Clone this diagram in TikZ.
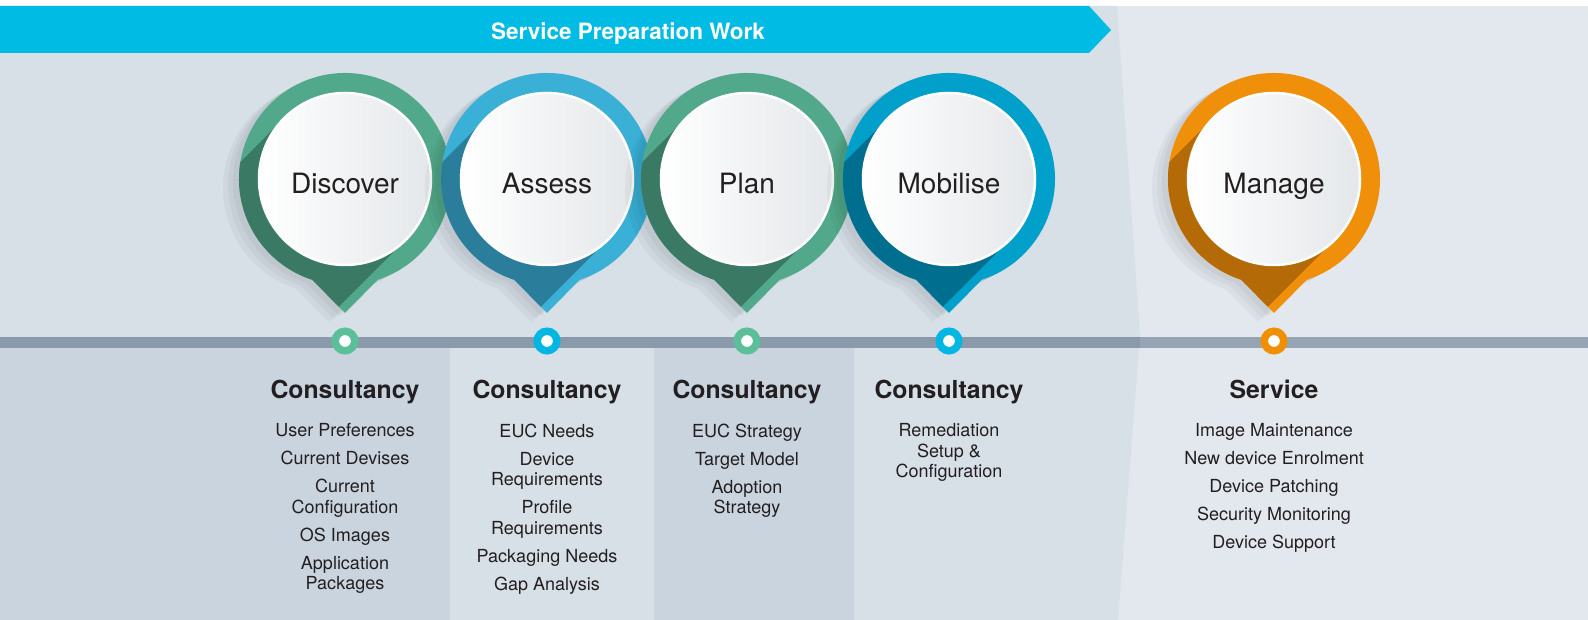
\documentclass[tikz,border=0pt]{standalone}
\usepackage{fontspec}
\setmainfont{TeX Gyre Heros}
\usepackage{tikz}
\usetikzlibrary{calc}
\usetikzlibrary{positioning}

\definecolor{bannerc}{HTML}{00BBE3}
\definecolor{leftbg}{HTML}{D7DFE7}
\definecolor{rightbg}{HTML}{E3E8EF}
\definecolor{colbg}{HTML}{C9D4DF}
\definecolor{barl}{HTML}{8A9AAB}
\definecolor{barr}{HTML}{95A5B4}
\definecolor{txtc}{HTML}{231F20}
\definecolor{innerc}{HTML}{E4E7EA}
\definecolor{pgreen}{HTML}{52A88A}
\definecolor{pgreend}{HTML}{3A7A65}
\definecolor{pblue}{HTML}{3AB0D6}
\definecolor{pblued}{HTML}{2A7E9C}
\definecolor{pcyan}{HTML}{00A0CB}
\definecolor{pcyand}{HTML}{006F8F}
\definecolor{porange}{HTML}{F0900A}
\definecolor{poranged}{HTML}{B46A06}
\definecolor{dgreen}{HTML}{5BC09A}
\definecolor{dcyan}{HTML}{00B6E3}
\definecolor{dorange}{HTML}{F08F00}

\def\pinpath{(0,-134) -- (-72:106) arc[start angle=-72,end angle=252,radius=106] -- cycle}

\begin{document}
\begin{tikzpicture}[x=1pt,y=1pt,
stage/.style={circle,minimum size=172pt,inner sep=0pt,draw=white,line width=2.5pt,left color=white,right color=innerc,text=txtc,font=\fontsize{28pt}{28pt}\selectfont,text height=34pt,text depth=5.4pt},
dot/.style={circle,draw=#1,fill=white,line width=7.5pt,minimum size=19.5pt,inner sep=0pt},
head/.style={font=\bfseries\fontsize{24.8pt}{24.8pt}\selectfont,text=txtc,inner sep=0pt,text height=18pt,text depth=5pt},
items/.style={align=center,font=\fontsize{18pt}{20.5pt}\selectfont,text=txtc,inner sep=0pt},
title/.style={font=\bfseries\fontsize{22.5pt}{22.5pt}\selectfont,text=white,inner sep=0pt},
pics/pin/.style 2 args={code={
    \fill[black,opacity=.035,shift={(-16,-9)}] \pinpath;
    \fill[black,opacity=.035,shift={(-11,-6)}] \pinpath;
    \fill[black,opacity=.04,shift={(-6,-3)}] \pinpath;
    \fill[#1] \pinpath;
    \begin{scope}
        \clip \pinpath;
        \fill[#2] (135:86) -- ++(-200,-200) -- ++(121.6,-121.6) -- ++(200,200) -- cycle;
    \end{scope}
}}]
\useasboundingbox (0,0) rectangle (1588,620);
\fill[white] (0,0) rectangle (1588,620);
\fill[rightbg] (0,0) rectangle (1588,614);
\fill[leftbg] (0,0) -- (0,614) -- (1117,614) -- (1140,285) -- (1118,0) -- cycle;
\fill[colbg] (0,0) rectangle (450,272);
\fill[colbg] (654,0) rectangle (854,272);
\fill[barl] (0,272) rectangle (1140,283);
\fill[barr] (1140,272) rectangle (1588,283);
\fill[bannerc] (0,567) -- (1089,567) -- (1111,590) -- (1089,614) -- (0,614) -- cycle;
\node[title,anchor=base] (t) at (628,580) {Service Preparation Work};

\pic at (345,441) {pin={pgreen}{pgreend}};
\node[stage] (s1) at (345,441) {Discover};
\pic at (547,441) {pin={pblue}{pblued}};
\node[stage] (s2) at (547,441) {Assess};
\pic at (747,441) {pin={pgreen}{pgreend}};
\node[stage] (s3) at (747,441) {Plan};
\pic at (949,441) {pin={pcyan}{pcyand}};
\node[stage] (s4) at (949,441) {Mobilise};
\pic at (1274,441) {pin={porange}{poranged}};
\node[stage] (s5) at (1274,441) {Manage};

\node[dot=dgreen] (p1) at (345,279) {};
\node[dot=dcyan] (p2) at (547,279) {};
\node[dot=dgreen] (p3) at (747,279) {};
\node[dot=dcyan] (p4) at (949,279) {};
\node[dot=dorange] (p5) at (1274,279) {};

\node[head,below=25.5pt of p1] (h1) {Consultancy};
\node[head,below=25.5pt of p2] (h2) {Consultancy};
\node[head,below=25.5pt of p3] (h3) {Consultancy};
\node[head,below=25.5pt of p4] (h4) {Consultancy};
\node[head,below=25.5pt of p5] (h5) {Service};

\node[items,below=20pt of h1] (l1) {User Preferences\\[7.5pt] Current Devises\\[7.5pt] Current\\Configuration\\[7.5pt] OS Images\\[7.5pt] Application\\Packages};
\node[items,below=20pt of h2] (l2) {EUC Needs\\[7.5pt] Device\\Requirements\\[7.5pt] Profile\\Requirements\\[7.5pt] Packaging Needs\\[7.5pt] Gap Analysis};
\node[items,below=20pt of h3] (l3) {EUC Strategy\\[7.5pt] Target Model\\[7.5pt] Adoption\\Strategy};
\node[items,below=20pt of h4] (l4) {Remediation\\Setup \&\\Configuration};
\node[items,below=20pt of h5] (l5) {Image Maintenance\\[7.5pt] New device Enrolment\\[7.5pt] Device Patching\\[7.5pt] Security Monitoring\\[7.5pt] Device Support};
\end{tikzpicture}
\end{document}
